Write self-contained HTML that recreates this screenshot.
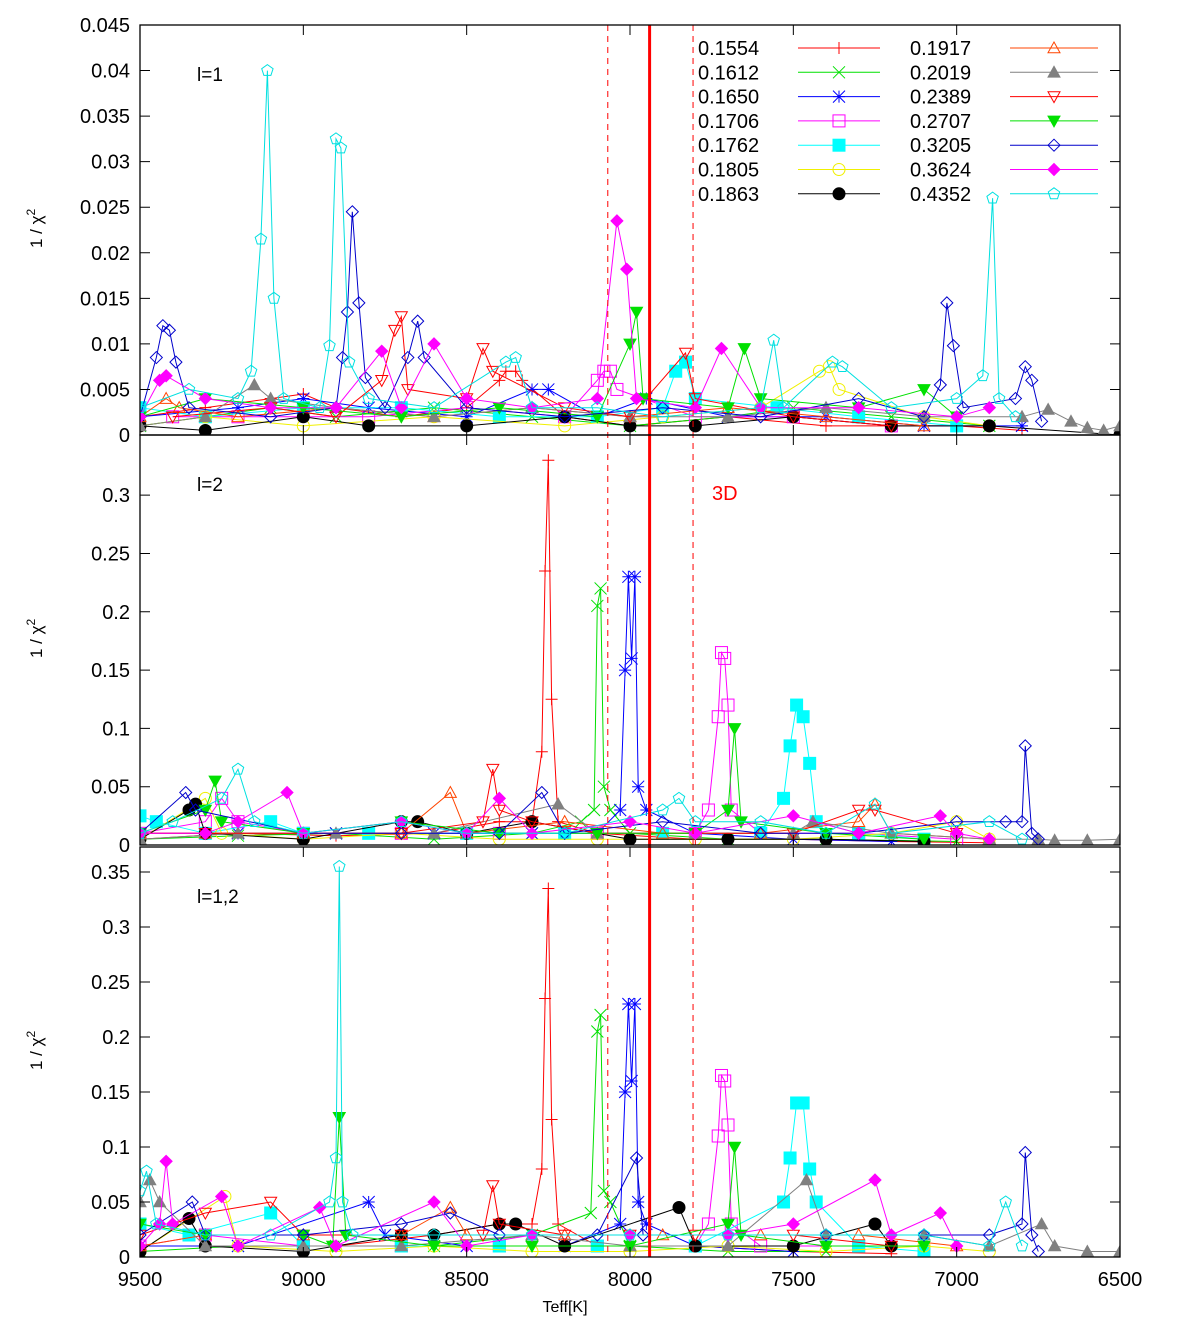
<!DOCTYPE html>
<html><head><meta charset="utf-8"><style>
body{margin:0;background:#fff;}
svg text{font-family:"Liberation Sans",sans-serif;}
</style></head><body>
<svg id="chart" width="1200" height="1326" xmlns="http://www.w3.org/2000/svg"></svg>
<script>
const xTicks=[9500,9000,8500,8000,7500,7000,6500];
const seriesNames=["0.1554","0.1612","0.1650","0.1706","0.1762","0.1805","0.1863","0.1917","0.2019","0.2389","0.2707","0.3205","0.3624","0.4352"];
const seriesColors=["#ff0000","#00e000","#0000ff","#ff00ff","#00ffff","#f0f000","#000000","#ff4500","#808080","#ff0000","#00e000","#0000cc","#ff00ff","#00e0e0"];
const seriesMarkers=["plus","cross","star","sqo","sqf","circo","circf","trio","trif","itrio","itrif","diao","diaf","pento"];
const panelLabels=["l=1","l=2","l=1,2"];
const panelMax=[0.045,0.3516,0.3727];
const panelTicks=[[0,0.005,0.01,0.015,0.02,0.025,0.03,0.035,0.04,0.045],[0,0.05,0.1,0.15,0.2,0.25,0.3],[0,0.05,0.1,0.15,0.2,0.25,0.3,0.35]];
const tickLabels=[["0","0.005","0.01","0.015","0.02","0.025","0.03","0.035","0.04","0.045"],["0","0.05","0.1","0.15","0.2","0.25","0.3"],["0","0.05","0.1","0.15","0.2","0.25","0.3","0.35"]];
const teff3D=7940, teffLow=8068, teffHigh=7807;
const p1=[
[[9500,.002],[9300,.003],[9100,.004],[9000,.0045],[8900,.003],[8700,.002],[8500,.003],[8400,.006],[8380,.007],[8350,.007],[8330,.006],[8200,.002],[8000,.001],[7700,.002],[7400,.001],[7000,.001],[6800,.0005]],
[[9500,.001],[9300,.002],[9100,.003],[8900,.002],[8600,.003],[8300,.002],[8000,.001],[7700,.002],[7500,.003],[7200,.002],[6900,.001]],
[[9500,.002],[9200,.003],[9000,.004],[8800,.003],[8500,.002],[8300,.005],[8250,.005],[8100,.002],[7950,.004],[7700,.002],[7400,.002],[7100,.001],[6800,.001]],
[[9400,.002],[9200,.002],[8800,.002],[8500,.003],[8200,.002],[8100,.006],[8080,.007],[8060,.007],[8040,.005],[7800,.002],[7500,.002],[7200,.001]],
[[9500,.003],[9300,.002],[9000,.003],[8700,.003],[8400,.002],[8100,.002],[7900,.003],[7860,.007],[7830,.008],[7800,.004],[7550,.003],[7300,.002],[7000,.001]],
[[9500,.001],[9300,.002],[9000,.001],[8600,.002],[8200,.001],[7900,.002],[7600,.003],[7420,.007],[7390,.0075],[7360,.005],[7100,.002],[6900,.001]],
[[9500,.001],[9300,.0005],[9000,.002],[8800,.001],[8500,.001],[8200,.002],[8000,.001],[7800,.001],[7500,.002],[7200,.001],[6900,.001],[6500,0]],
[[9500,.002],[9420,.004],[9380,.003],[9200,.002],[8900,.003],[8600,.002],[8300,.003],[8000,.002],[7700,.003],[7400,.002],[7100,.001]],
[[9500,.001],[9300,.002],[9150,.0055],[9100,.004],[8900,.003],[8600,.002],[8300,.003],[8000,.002],[7700,.002],[7400,.003],[7100,.002],[6800,.002],[6720,.0028],[6650,.0015],[6600,.0008],[6550,.0005],[6500,.001]],
[[9400,.002],[9100,.003],[8900,.002],[8760,.006],[8720,.0115],[8700,.013],[8680,.005],[8500,.004],[8450,.0095],[8420,.007],[8200,.003],[8000,.002],[7830,.009],[7800,.004],[7500,.002],[7200,.001]],
[[9500,.002],[9300,.004],[9000,.003],[8700,.002],[8400,.003],[8100,.002],[8000,.010],[7980,.0135],[7960,.004],[7700,.003],[7650,.0095],[7600,.004],[7300,.003],[7100,.005],[7000,.002]],
[[9500,.002],[9450,.0085],[9430,.012],[9410,.0115],[9390,.008],[9350,.003],[9100,.002],[8900,.003],[8880,.0085],[8865,.0135],[8850,.0245],[8830,.0145],[8810,.0063],[8750,.003],[8680,.0085],[8650,.0125],[8630,.0085],[8500,.003],[8200,.002],[7900,.003],[7600,.002],[7300,.004],[7100,.002],[7050,.0055],[7030,.0145],[7010,.0098],[6980,.003],[6820,.004],[6790,.0075],[6770,.006],[6740,.0015]],
[[9500,.002],[9440,.006],[9420,.0065],[9300,.004],[9100,.003],[8900,.003],[8760,.0092],[8700,.003],[8600,.010],[8500,.004],[8300,.003],[8100,.004],[8040,.0235],[8010,.0182],[7980,.004],[7800,.003],[7720,.0095],[7600,.003],[7300,.003],[7000,.002],[6900,.003]],
[[9500,.003],[9350,.005],[9200,.004],[9160,.007],[9130,.0215],[9110,.040],[9090,.015],[9060,.004],[8950,.003],[8920,.0098],[8900,.0325],[8885,.0315],[8860,.008],[8800,.004],[8600,.003],[8380,.008],[8350,.0085],[8300,.003],[8100,.003],[7900,.002],[7600,.003],[7560,.0104],[7530,.003],[7380,.008],[7350,.0075],[7200,.003],[7000,.004],[6920,.0065],[6890,.026],[6870,.004],[6820,.002]]
];
const p2=[
[[9500,.005],[9200,.01],[8900,.008],[8600,.01],[8400,.02],[8300,.02],[8270,.08],[8260,.235],[8250,.33],[8240,.125],[8220,.02],[8100,.01],[7800,.005],[7500,.005],[7200,.003],[6900,.002]],
[[9500,.005],[9200,.008],[8900,.01],[8600,.005],[8300,.01],[8150,.02],[8110,.03],[8100,.205],[8090,.22],[8080,.05],[8060,.03],[8000,.01],[7700,.005],[7400,.005],[7000,.003]],
[[9500,.01],[9200,.01],[8900,.01],[8600,.01],[8300,.01],[8100,.01],[8030,.03],[8015,.15],[8005,.23],[7995,.16],[7985,.23],[7975,.05],[7950,.03],[7800,.01],[7500,.005],[7200,.003]],
[[9500,.01],[9300,.02],[9250,.04],[9200,.02],[9000,.01],[8700,.01],[8400,.01],[8100,.01],[7800,.01],[7760,.03],[7730,.11],[7720,.165],[7710,.16],[7700,.12],[7690,.03],[7600,.01],[7300,.01],[7000,.005]],
[[9500,.025],[9450,.02],[9300,.01],[9100,.02],[9000,.01],[8800,.01],[8500,.01],[8200,.01],[7900,.01],[7600,.01],[7530,.04],[7510,.085],[7490,.12],[7470,.11],[7450,.07],[7430,.02],[7300,.01],[7100,.005]],
[[9500,.005],[9300,.04],[9250,.01],[9000,.005],[8700,.01],[8400,.005],[8100,.005],[7800,.005],[7500,.005],[7200,.01],[7000,.02],[6900,.005]],
[[9500,.005],[9350,.03],[9330,.035],[9300,.01],[9000,.005],[8700,.02],[8650,.02],[8500,.01],[8300,.02],[8000,.005],[7700,.005],[7400,.005],[7100,.003]],
[[9500,.01],[9300,.01],[9000,.01],[8700,.01],[8550,.045],[8500,.01],[8200,.02],[7900,.01],[7600,.01],[7300,.02],[7250,.035],[7200,.01],[6900,.005]],
[[9500,.005],[9200,.01],[8900,.01],[8600,.01],[8220,.035],[8100,.01],[7800,.01],[7500,.01],[7440,.02],[7200,.01],[6900,.005],[6750,.005],[6700,.004],[6600,.004],[6500,.005]],
[[9500,.01],[9300,.01],[9000,.01],[8700,.01],[8450,.02],[8420,.065],[8400,.03],[8300,.02],[8100,.01],[7800,.01],[7500,.01],[7300,.03],[7250,.03],[7000,.01]],
[[9500,.01],[9300,.03],[9270,.055],[9250,.02],[9000,.01],[8700,.02],[8400,.01],[8100,.01],[7800,.01],[7700,.03],[7680,.10],[7660,.02],[7400,.01],[7100,.005]],
[[9500,.01],[9360,.045],[9330,.03],[9000,.01],[8700,.01],[8400,.01],[8270,.045],[8200,.01],[7900,.02],[7600,.01],[7300,.01],[7000,.02],[6850,.02],[6800,.02],[6790,.085],[6770,.01],[6750,.005]],
[[9500,.01],[9300,.01],[9200,.02],[9050,.045],[9000,.01],[8700,.02],[8500,.01],[8400,.04],[8300,.01],[8000,.02],[7800,.01],[7500,.025],[7300,.01],[7050,.025],[7000,.01],[6900,.005]],
[[9500,.01],[9400,.02],[9250,.04],[9200,.065],[9150,.02],[9000,.01],[8700,.02],[8500,.01],[8200,.01],[7900,.03],[7850,.04],[7800,.02],[7600,.02],[7400,.01],[7250,.035],[7200,.01],[6900,.02],[6800,.005]]
];
const p3=[
[[9500,.01],[9200,.01],[8900,.01],[8600,.02],[8400,.03],[8300,.03],[8270,.08],[8260,.235],[8250,.335],[8240,.125],[8220,.03],[8100,.01],[7800,.01],[7500,.005],[7200,.003]],
[[9500,.005],[9200,.01],[8900,.01],[8600,.01],[8300,.02],[8120,.04],[8100,.205],[8090,.22],[8080,.06],[8060,.05],[8000,.01],[7700,.005],[7400,.005]],
[[9500,.01],[9200,.01],[8800,.05],[8750,.02],[8500,.01],[8200,.01],[8030,.03],[8015,.15],[8005,.23],[7995,.16],[7985,.23],[7975,.05],[7950,.03],[7800,.01],[7500,.005]],
[[9500,.01],[9300,.02],[9000,.01],[8700,.01],[8400,.01],[8100,.01],[7800,.01],[7760,.03],[7730,.11],[7720,.165],[7710,.16],[7700,.12],[7690,.03],[7600,.01],[7300,.01]],
[[9500,.03],[9350,.02],[9100,.04],[9000,.01],[8700,.01],[8400,.01],[8100,.01],[7800,.01],[7530,.05],[7510,.09],[7490,.14],[7470,.14],[7450,.08],[7430,.05],[7300,.01],[7100,.005]],
[[9500,.005],[9240,.055],[9200,.01],[8900,.005],[8600,.01],[8300,.005],[8000,.005],[7700,.01],[7400,.005],[7100,.01],[6900,.005]],
[[9500,.005],[9350,.035],[9300,.01],[9000,.005],[8700,.02],[8600,.02],[8400,.03],[8350,.03],[8200,.01],[7850,.045],[7800,.01],[7500,.01],[7250,.03],[7200,.01]],
[[9500,.01],[9300,.02],[9000,.02],[8700,.02],[8550,.045],[8500,.02],[8200,.02],[7900,.02],[7600,.02],[7300,.02],[7000,.01]],
[[9500,.05],[9470,.07],[9440,.05],[9300,.01],[9000,.01],[8700,.01],[8300,.02],[8000,.01],[7700,.01],[7460,.07],[7400,.02],[7100,.02],[6900,.01],[6740,.03],[6700,.01],[6600,.005],[6500,.005]],
[[9500,.02],[9300,.04],[9100,.05],[9000,.02],[8700,.02],[8450,.02],[8420,.065],[8400,.03],[8200,.02],[8000,.02],[7800,.02],[7500,.02],[7200,.01]],
[[9500,.03],[9300,.02],[9000,.02],[8910,.01],[8890,.127],[8870,.02],[8600,.01],[8300,.01],[8000,.01],[7700,.03],[7680,.10],[7660,.02],[7400,.01],[7100,.01]],
[[9500,.02],[9340,.05],[9300,.02],[9000,.02],[8700,.03],[8550,.04],[8400,.02],[8100,.02],[7980,.09],[7960,.02],[7700,.02],[7400,.02],[7100,.02],[6900,.02],[6800,.03],[6790,.095],[6770,.02],[6750,.005]],
[[9500,.01],[9440,.03],[9420,.087],[9400,.03],[9250,.055],[9200,.01],[8950,.045],[8900,.01],[8600,.05],[8500,.01],[8300,.02],[8000,.02],[7700,.02],[7500,.03],[7250,.07],[7200,.02],[7050,.04],[7000,.01]],
[[9500,.06],[9480,.078],[9450,.03],[9300,.02],[9100,.02],[8920,.05],[8900,.09],[8890,.355],[8880,.05],[8850,.02],[8600,.02],[8300,.02],[8000,.02],[7700,.02],[7400,.02],[7100,.02],[6900,.01],[6850,.05],[6800,.01]]
];
const panelData=[p1,p2,p3];

const NS="http://www.w3.org/2000/svg";
const svg=document.getElementById('chart');
const L=140,R=1120,T=25,B=1257;
const panelTop=[25,435,847],panelBot=[435,845,1257];
function X(t){return L+(9500-t)/3000*(R-L);}
function Y(p,v){return panelBot[p]-v/panelMax[p]*(panelBot[p]-panelTop[p]);}
function mk(tag,attrs,parent){const e=document.createElementNS(NS,tag);for(const k in attrs)e.setAttribute(k,attrs[k]);(parent||svg).appendChild(e);return e;}
function marker(g,type,x,y,c){
  const s=6;let e;
  if(type==="plus"){e=mk('path',{d:`M${x-s} ${y}H${x+s}M${x} ${y-s}V${y+s}`,stroke:c,fill:'none'},g);}
  else if(type==="cross"){e=mk('path',{d:`M${x-s} ${y-s}L${x+s} ${y+s}M${x-s} ${y+s}L${x+s} ${y-s}`,stroke:c,fill:'none'},g);}
  else if(type==="star"){e=mk('path',{d:`M${x-s} ${y}H${x+s}M${x} ${y-s}V${y+s}M${x-s} ${y-s}L${x+s} ${y+s}M${x-s} ${y+s}L${x+s} ${y-s}`,stroke:c,fill:'none'},g);}
  else if(type==="sqo"||type==="sqf"){e=mk('rect',{x:x-s,y:y-s,width:2*s,height:2*s,stroke:c,fill:type==="sqf"?c:'none'},g);}
  else if(type==="circo"||type==="circf"){e=mk('circle',{cx:x,cy:y,r:s,stroke:c,fill:type==="circf"?c:'none'},g);}
  else if(type==="trio"||type==="trif"){e=mk('path',{d:`M${x} ${y-s}L${x+s} ${y+s*0.8}L${x-s} ${y+s*0.8}Z`,stroke:c,fill:type==="trif"?c:'none'},g);}
  else if(type==="itrio"||type==="itrif"){e=mk('path',{d:`M${x} ${y+s}L${x+s} ${y-s*0.8}L${x-s} ${y-s*0.8}Z`,stroke:c,fill:type==="itrif"?c:'none'},g);}
  else if(type==="diao"||type==="diaf"){e=mk('path',{d:`M${x} ${y-s}L${x+s} ${y}L${x} ${y+s}L${x-s} ${y}Z`,stroke:c,fill:type==="diaf"?c:'none'},g);}
  else {let d='';for(let i=0;i<5;i++){const a=-Math.PI/2+i*2*Math.PI/5;d+=(i?'L':'M')+(x+s*Math.cos(a)).toFixed(1)+' '+(y+s*Math.sin(a)).toFixed(1);}e=mk('path',{d:d+'Z',stroke:c,fill:'none'},g);}
  
  
}
for(let p=0;p<3;p++){
  const clip=mk('clipPath',{id:'c'+p});mk('rect',{x:L,y:panelTop[p]-8,width:R-L,height:panelBot[p]-panelTop[p]+8},clip);
  const pg=mk('g',{'clip-path':`url(#c${p})`});
  
  
  panelData[p].forEach((pts,si)=>{
    const g=mk('g',{},pg);
    
    
    const c=seriesColors[si];
    mk('polyline',{points:pts.map(q=>X(q[0]).toFixed(1)+','+Y(p,q[1]).toFixed(1)).join(' '),fill:'none',stroke:c,'stroke-width':1},g);
    pts.forEach(q=>marker(g,seriesMarkers[si],X(q[0]),Y(p,q[1]),c));
  });
}
const rl=mk('line',{x1:X(teff3D),x2:X(teff3D),y1:T,y2:B,stroke:'#ff0000','stroke-width':3});

[teffLow,teffHigh].forEach(t=>{const l=mk('line',{x1:X(t),x2:X(t),y1:T,y2:B,stroke:'#ff0000','stroke-width':1,'stroke-dasharray':'6,5'});
});
for(let p=0;p<3;p++){
  const f=mk('rect',{x:L,y:panelTop[p],width:R-L,height:panelBot[p]-panelTop[p],fill:'none',stroke:'#000','stroke-width':1.3});
  
  panelTicks[p].forEach((v,i)=>{const y=Y(p,v);
    mk('path',{d:`M${L} ${y}h10M${R} ${y}h-10`,stroke:'#000'});
    const t=mk('text',{x:L-10,y:y+7,'text-anchor':'end','font-size':20});t.textContent=tickLabels[p][i];
    });
  xTicks.forEach(v=>{const x=X(v);mk('path',{d:`M${x} ${panelTop[p]}v10M${x} ${panelBot[p]}v-10`,stroke:'#000'});});
  const yl=mk('text',{x:0,y:0,'font-size':17,transform:`translate(42,${(panelTop[p]+panelBot[p])/2+18}) rotate(-90)`});
  yl.innerHTML='1 / χ<tspan dy="-7" font-size="12">2</tspan>';
  
  const pl=mk('text',{x:197,y:panelTop[p]+56,'font-size':19});pl.textContent=panelLabels[p];
  
}
xTicks.forEach(v=>{const t=mk('text',{x:X(v),y:1286,'text-anchor':'middle','font-size':20});t.textContent=v;
});
const xt=mk('text',{x:565,y:1312,'text-anchor':'middle','font-size':16});xt.textContent='Teff[K]';

const d3=mk('text',{x:712,y:500,'font-size':20,fill:'#ff0000'});d3.textContent='3D';

const lg=mk('g',{});

seriesNames.forEach((n,i)=>{
  const col=i<7?0:1,row=i%7;const y=48+row*24.3;
  const tx=col?910:698,lx1=col?1010:798,lx2=col?1098:880;
  const e=mk('g',{},lg);
  
  const t=mk('text',{x:tx,y:y+7,'font-size':20},e);t.textContent=n;
  mk('line',{x1:lx1,x2:lx2,y1:y,y2:y,stroke:seriesColors[i]},e);
  marker(e,seriesMarkers[i],(lx1+lx2)/2,y,seriesColors[i]);
});
</script>
</body></html>
